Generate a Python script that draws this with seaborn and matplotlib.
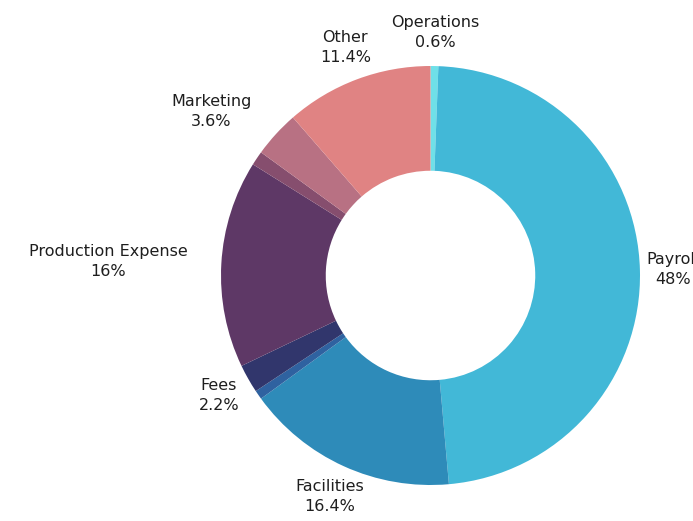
import numpy as np
import matplotlib
matplotlib.use("Agg")
import matplotlib.pyplot as plt
import seaborn as sns

# ---- data ----
categories = ["Operations", "Payroll", "Facilities", "Equipment", "Fees",
              "Production Expense", "Supplies", "Marketing", "Other"]
values = [0.6, 48.0, 16.4, 0.7, 2.2, 16.0, 1.1, 3.6, 11.4]
value_labels = ["0.6%", "48%", "16.4%", "", "2.2%", "16%", "", "3.6%", "11.4%"]
show_label = [True, True, True, False, True, True, False, True, True]
colors = ["#6fe0e8", "#42b8d7", "#2e8bb9", "#2f62a0", "#31366c",
          "#5e3866", "#864e6e", "#b87183", "#e08383"]

sns.set_theme(style="white")
plt.rcParams["font.family"] = ["DejaVu Sans"]

W, H = 693, 521
fig = plt.figure(figsize=(W / 100, H / 100), dpi=100)
ax = fig.add_axes([0, 0, 1, 1])

cx, cy, R = 430.5, 275.5, 209.5
wedges, _ = ax.pie(values, colors=colors, startangle=90, counterclock=False,
                   radius=1.0, wedgeprops=dict(width=0.5, linewidth=0))

ax.set_xlim(-cx / R, (W - cx) / R)
ax.set_ylim(-(H - cy) / R, cy / R)
ax.set_aspect("auto")
ax.axis("off")

right_aligned = {"Production Expense", "Marketing"}
for w, name, vl, show in zip(wedges, categories, value_labels, show_label):
    if not show:
        continue
    ang = np.deg2rad((w.theta1 + w.theta2) / 2)
    d = 1.16
    x, y = d * np.cos(ang), d * np.sin(ang)
    ha = "right" if name in right_aligned else "center"
    ax.text(x, y, f"{name}\n{vl}", ha=ha, va="center", multialignment="center",
            fontsize=11.5, color="#1e1e1e", linespacing=1.4)

fig.savefig("out.png", dpi=100, facecolor="white")
